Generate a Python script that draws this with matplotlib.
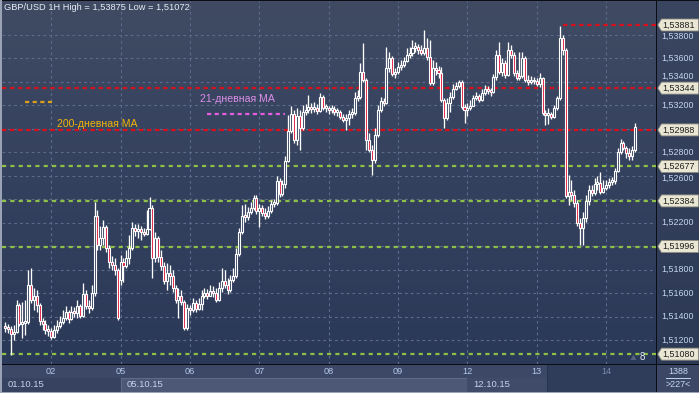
import matplotlib
matplotlib.use("Agg")
import matplotlib.pyplot as plt
import numpy as np
from matplotlib.patches import Rectangle, Polygon
from matplotlib.colors import LinearSegmentedColormap
import matplotlib.transforms as mtransforms

plt.rcParams['font.family'] = ['Liberation Sans', 'DejaVu Sans']
plt.rcParams['lines.scale_dashes'] = False

# ---------------- data (price points above BASE, 1 point = 0.00001) -------------
BASE = 1.5
PT = 1e-5
first_open_pts = 1314
gap_open_pts = {40: 1714}

close_pts = [
    1306, 1297, 1255, 1272, 1501, 1340, 1348, 1357, 1671, 1544,
    1578, 1501, 1365, 1340, 1289, 1280, 1229, 1289, 1323, 1357,
    1391, 1442, 1382, 1442, 1433, 1493, 1408, 1595, 1493, 1476,
    1603, 2258, 2011, 2071, 2164, 1986, 1867, 1841, 1799, 1391,
    1867, 1833, 1901, 1986, 2156, 2130, 2147, 2122, 2105, 2147,
    2326, 1901, 2071, 1909, 1833, 1705, 1773, 1748, 1646, 1544,
    1578, 1527, 1306, 1476, 1459, 1518, 1467, 1510, 1578, 1603,
    1578, 1620, 1603, 1544, 1646, 1705, 1671, 1629, 1714, 1748,
    1935, 2122, 2258, 2249, 2292, 2326, 2411, 2300, 2326, 2283,
    2258, 2300, 2360, 2368, 2555, 2445, 2530, 2725, 2980, 3125,
    2904, 3108, 3006, 3142, 3159, 3184, 3167, 3176, 3150, 3269,
    3176, 3176, 3159, 3167, 3142, 3142, 3099, 3074, 3091, 3125,
    3133, 3261, 3269, 3482, 3414, 2904, 2819, 2734, 2946, 3159,
    3235, 3218, 3516, 3601, 3465, 3482, 3524, 3541, 3575, 3626,
    3643, 3686, 3694, 3669, 3643, 3686, 3609, 3388, 3516, 3499,
    3473, 3244, 3091, 3218, 3269, 3337, 3363, 3397, 3184, 3159,
    3176, 3193, 3261, 3278, 3244, 3303, 3337, 3320, 3312, 3439,
    3626, 3482, 3558, 3456, 3669, 3626, 3473, 3431, 3448, 3601,
    3414, 3397, 3414, 3405, 3380, 3431, 3133, 3116, 3125, 3099,
    3176, 3261, 3771, 3669, 2428, 2462, 2436, 2368, 2198, 2156,
    2241, 2385, 2479, 2453, 2530, 2538, 2462, 2496, 2521, 2547,
    2555, 2640, 2802, 2878, 2836, 2793, 2768, 2819, 3014]

high_pts = [
    1357, 1340, 1323, 1331, 1544, 1518, 1527, 1544, 1799, 1816,
    1646, 1629, 1518, 1391, 1374, 1331, 1306, 1331, 1374, 1408,
    1459, 1493, 1459, 1493, 1484, 1544, 1510, 1688, 1629, 1544,
    1671, 2377, 2309, 2173, 2224, 2181, 2011, 1918, 1901, 1816,
    1926, 1901, 1969, 2096, 2207, 2190, 2190, 2173, 2156, 2309,
    2419, 2351, 2122, 2088, 1969, 1867, 1858, 1841, 1799, 1671,
    1646, 1629, 1544, 1510, 1501, 1561, 1544, 1561, 1629, 1646,
    1637, 1671, 1663, 1646, 1697, 1816, 1799, 1731, 1756, 1816,
    1986, 2156, 2351, 2360, 2334, 2377, 2436, 2436, 2360, 2351,
    2326, 2343, 2394, 2402, 2598, 2581, 2564, 2768, 3116, 3193,
    3159, 3176, 3159, 3201, 3210, 3286, 3218, 3227, 3210, 3303,
    3286, 3210, 3193, 3201, 3193, 3176, 3159, 3125, 3125, 3159,
    3176, 3312, 3329, 3558, 3728, 3431, 2963, 2861, 3006, 3201,
    3269, 3261, 3694, 3652, 3618, 3516, 3567, 3584, 3609, 3686,
    3694, 3754, 3737, 3720, 3711, 3839, 3771, 3754, 3584, 3567,
    3533, 3524, 3261, 3261, 3312, 3380, 3397, 3414, 3414, 3210,
    3218, 3244, 3286, 3312, 3295, 3337, 3371, 3363, 3346, 3465,
    3669, 3737, 3601, 3584, 3737, 3711, 3652, 3499, 3652, 3652,
    3618, 3456, 3448, 3439, 3431, 3473, 3439, 3159, 3176, 3142,
    3201, 3278, 3875, 3796, 3686, 2606, 2564, 2479, 2394, 2241,
    2292, 2436, 2521, 2521, 2581, 2598, 2632, 2564, 2564, 2581,
    2589, 2666, 2836, 2912, 2895, 2853, 2836, 2853, 3048]

low_pts = [
    1272, 1263, 1072, 1204, 1263, 1323, 1221, 1246, 1340, 1518,
    1459, 1442, 1331, 1289, 1255, 1238, 1212, 1221, 1263, 1306,
    1340, 1374, 1348, 1374, 1399, 1391, 1391, 1399, 1467, 1433,
    1459, 1578, 1969, 1969, 2011, 1952, 1816, 1799, 1756, 1374,
    1671, 1697, 1816, 1850, 1969, 2088, 2071, 2054, 2088, 2096,
    2139, 1731, 1867, 1867, 1799, 1680, 1629, 1671, 1612, 1518,
    1391, 1501, 1289, 1289, 1416, 1442, 1442, 1459, 1459, 1561,
    1552, 1578, 1569, 1527, 1535, 1612, 1646, 1595, 1612, 1697,
    1731, 1918, 2105, 2207, 2224, 2275, 2309, 2275, 2164, 2258,
    2232, 2241, 2283, 2334, 2351, 2419, 2428, 2496, 2717, 2963,
    2878, 2861, 2819, 2989, 3116, 3133, 3133, 3142, 3125, 3142,
    3159, 3142, 3125, 3133, 3116, 3108, 3082, 3057, 2989, 3031,
    3091, 3116, 3235, 3252, 3397, 2819, 2802, 2606, 2708, 2929,
    3142, 3193, 3210, 3482, 3448, 3431, 3465, 3499, 3524, 3567,
    3601, 3618, 3652, 3635, 3626, 3626, 3584, 3371, 3371, 3456,
    3431, 3227, 3006, 3074, 3142, 3252, 3329, 3346, 3167, 3048,
    3108, 3159, 3193, 3244, 3227, 3235, 3286, 3295, 3278, 3303,
    3414, 3465, 3448, 3431, 3448, 3601, 3448, 3414, 3414, 3431,
    3397, 3371, 3380, 3380, 3363, 3354, 3116, 3031, 3040, 3082,
    3091, 3159, 3244, 3626, 2411, 2351, 2394, 2334, 2173, 2011,
    2011, 2207, 2351, 2428, 2436, 2479, 2445, 2453, 2479, 2496,
    2521, 2530, 2632, 2785, 2819, 2751, 2734, 2734, 2802]

day_labels = ["02", "05", "06", "07", "08", "09", "12", "13", "14"]
day_start_idx = [16, 40, 64, 88, 112, 136, 160, 184, 208]
date_labels = ["01.10.15", "05.10.15", "12.10.15"]
date_start_idx = [-1, 40, 160]

resistance_levels = [1.53881, 1.53344, 1.52988]
resistance_from_idx = [193, None, None]
support_levels = [1.52677, 1.52384, 1.51996, 1.51080]
grid_prices = [1.512, 1.514, 1.516, 1.518, 1.520, 1.522, 1.524, 1.526,
               1.528, 1.530, 1.532, 1.534, 1.536, 1.538]
# labels that are not hidden behind the level boxes
price_tick_labels = [1.512, 1.514, 1.516, 1.518, 1.522, 1.526, 1.528,
                     1.532, 1.534, 1.536, 1.538]
title = "GBP/USD 1H High = 1,53875 Low = 1,51072"
bars_total = "1388"
bars_visible = ">227<"

# ---------------- derived OHLC ---------------------------------------------------
c = BASE + np.array(close_pts) * PT
opens_pts = [first_open_pts] + close_pts[:-1]
for k, v in gap_open_pts.items():
    opens_pts[k] = v
o = BASE + np.array(opens_pts) * PT
h = np.maximum.reduce([BASE + np.array(high_pts) * PT, o, c])
l = np.minimum.reduce([BASE + np.array(low_pts) * PT, o, c])
idx = np.arange(len(c))

# ---------------- layout ---------------------------------------------------------
W, H = 699, 393
fig = plt.figure(figsize=(W / 100, H / 100), dpi=100)
fig.patch.set_facecolor('#0a0d14')


def px(x0, y0, x1, y1):
    return [x0 / W, 1 - y1 / H, (x1 - x0) / W, (y1 - y0) / H]


fig.patches.append(Rectangle((0, 0), 2 / W, 1, transform=fig.transFigure,
                             facecolor='#9aa3b5', edgecolor='none', zorder=-5))
fig.patches.append(Rectangle((0, 0), 1, 1.5 / H, transform=fig.transFigure,
                             facecolor='#9aa3b5', edgecolor='none', zorder=-5))

ax = fig.add_axes(px(2, 1, 656, 364))
YMIN, YMAX = 1.509961, 1.540852
XMIN, XMAX = -1.04, 225.26
ax.set_xlim(XMIN, XMAX)
ax.set_ylim(YMIN, YMAX)
ax.set_axis_off()

cmap = LinearSegmentedColormap.from_list('bg', ['#404b63', '#34415e', '#2b3958'])
ax.imshow(np.linspace(0, 1, 256).reshape(-1, 1), cmap=cmap, aspect='auto',
          extent=[XMIN, XMAX, YMIN, YMAX], origin='upper', zorder=0)

# grid
grid_kw = dict(color='#5d6b8a', lw=0.8, linestyle=(0, (2, 2.2)), zorder=1)
ax.hlines(grid_prices, XMIN, XMAX, **grid_kw)
ax.vlines(day_start_idx, YMIN, YMAX, **grid_kw)

# support / resistance lines
for lvl, start in zip(resistance_levels, resistance_from_idx):
    x0 = XMIN if start is None else start
    ax.plot([x0, XMAX], [lvl, lvl], color='#d8101c', lw=1.6,
            dashes=(3.2, 2.6), zorder=2, solid_capstyle='butt')
for lvl in support_levels:
    ax.plot([XMIN, XMAX], [lvl, lvl], color='#8fc046', lw=1.6,
            dashes=(3.0, 3.0), zorder=2)

# candles
body_lo = np.minimum(o, c)
body_hi = np.maximum(o, c)
ax.vlines(idx, body_hi, h, color='white', lw=0.95, zorder=3)
ax.vlines(idx, l, body_lo, color='white', lw=0.95, zorder=3)
bear = c < o
face = ['#e0183c' if b else '#36445f' for b in bear]
min_h = 12 * PT
heights = np.maximum(body_hi - body_lo, min_h)
ax.bar(idx, heights, bottom=body_lo, width=0.7, color=face,
       edgecolor='white', linewidth=0.8, zorder=4)

# annotations (legend-like)
ax.plot([0.0352, 0.0780], [0.7214, 0.7214], transform=ax.transAxes,
        color='#d9a21a', lw=1.6, dashes=(3, 2.5))
ax.text(0.0841, 0.6610, "200-дневная МА", transform=ax.transAxes,
        color='#f2b409', fontsize=7.6, va='center', ha='left')
ax.plot([0.3135, 0.4328], [0.6887, 0.6887], transform=ax.transAxes,
        color='#e35ee0', lw=1.6, dashes=(3, 2.5))
ax.text(0.3028, 0.7300, "21-дневная МА", transform=ax.transAxes,
        color='#d98ee6', fontsize=7.6, va='center', ha='left')

ax.text(0.003, 0.981, title, transform=ax.transAxes, color='#e6ecf5',
        fontsize=6.7, va='center', ha='left')

# small "8" marker at bottom right
ax.add_patch(Polygon([[0.9610, 0.0110], [0.9700, 0.0110], [0.9655, 0.0260]],
                     closed=True, transform=ax.transAxes,
                     facecolor='#55637f', edgecolor='none', zorder=5))
ax.text(0.9785, 0.0180, "8", transform=ax.transAxes, color='#e6ecf5',
        fontsize=7, va='center', ha='center', zorder=5)

# ---------------- right price panel ---------------------------------------------
axr = fig.add_axes(px(657, 1, 699, 364))
axr.set_xlim(0, 42)
axr.set_ylim(YMIN, YMAX)
axr.set_axis_off()
rcmap = LinearSegmentedColormap.from_list('bgr', ['#3a4560', '#2c3955'])
axr.imshow(np.linspace(0, 1, 256).reshape(-1, 1), cmap=rcmap, aspect='auto',
           extent=[0, 42, YMIN, YMAX], origin='upper', zorder=0)

unit = (YMAX - YMIN) / 363.0          # price per pixel
box_levels = resistance_levels + support_levels
for t in price_tick_labels:
    # nudge a tick label just clear of a nearby level box
    shift_px = 0.0
    for lvl in box_levels:
        d = (t - lvl) / unit
        if abs(d) < 11.5:
            shift_px = (11.5 - abs(d)) * np.sign(d)
    off = mtransforms.offset_copy(axr.transData, fig=fig, x=0,
                                  y=shift_px * 0.72, units='points')
    axr.text(4, t, f"{t:.5f}".replace('.', ','), color='#c6d6ef',
             fontsize=6.4, va='center', ha='left', zorder=2, transform=off)

for lvl in box_levels:
    hh = 6.0 * unit
    poly = Polygon([[0.8, lvl], [4.5, lvl + hh], [41.5, lvl + hh],
                    [41.5, lvl - hh], [4.5, lvl - hh]], closed=True,
                   facecolor='#e9e6d3', edgecolor='#8a8a80', lw=0.6, zorder=3)
    axr.add_patch(poly)
    axr.text(5.2, lvl, f"{lvl:.5f}".replace('.', ','), color='#1c1c1c',
             fontsize=6.4, va='center', ha='left', zorder=4)

# ---------------- bottom time panel ---------------------------------------------
axb = fig.add_axes(px(2, 365, 656, 392))
axb.set_xlim(XMIN, XMAX)
axb.set_ylim(27, 0)
axb.set_axis_off()
axb.add_patch(Rectangle((XMIN, 0), XMAX - XMIN, 27, facecolor='#3c4866',
                        edgecolor='none', zorder=0))
axb.add_patch(Rectangle((XMIN, 13), 40 - XMIN, 14, facecolor='#36425f',
                        edgecolor='none', zorder=1))
axb.add_patch(Rectangle((40, 13), 120, 14, facecolor='#4c5876',
                        edgecolor='#5e6a86', lw=0.8, zorder=1))
axb.add_patch(Rectangle((160, 13), 27.5, 14, facecolor='#3f4b69',
                        edgecolor='none', zorder=1))
axb.add_patch(Rectangle((187.5, 0), XMAX - 187.5, 27, facecolor='#2f3c5a',
                        edgecolor='none', zorder=1))
axb.vlines([187.5], 0, 27, color='#28334d', lw=0.8, zorder=2)
for lab, d in zip(day_labels, day_start_idx):
    col = '#7d8cab' if d >= 188 else '#b4c8e6'
    axb.text(d, 6.8, lab, color=col, fontsize=6.6, ha='center', va='center',
             zorder=3)
for lab, d in zip(date_labels, date_start_idx):
    axb.text(d + 2.0, 19.5, lab, color='#c4d2ea', fontsize=6.8, ha='left',
             va='center', zorder=3)

# bottom-right counter
axc = fig.add_axes(px(657, 365, 699, 392))
axc.set_xlim(0, 42)
axc.set_ylim(27, 0)
axc.set_axis_off()
axc.add_patch(Rectangle((0, 0), 42, 27, facecolor='#3b4765', edgecolor='none'))
axc.text(21, 6.5, bars_total, color='#c6d6ef', fontsize=6.4, ha='center',
         va='center')
axc.plot([9, 33], [13, 13], color='#c6d6ef', lw=0.7)
axc.text(21, 19.5, bars_visible, color='#c6d6ef', fontsize=6.4, ha='center',
         va='center')

fig.savefig('out.png', dpi=100, facecolor=fig.get_facecolor())
